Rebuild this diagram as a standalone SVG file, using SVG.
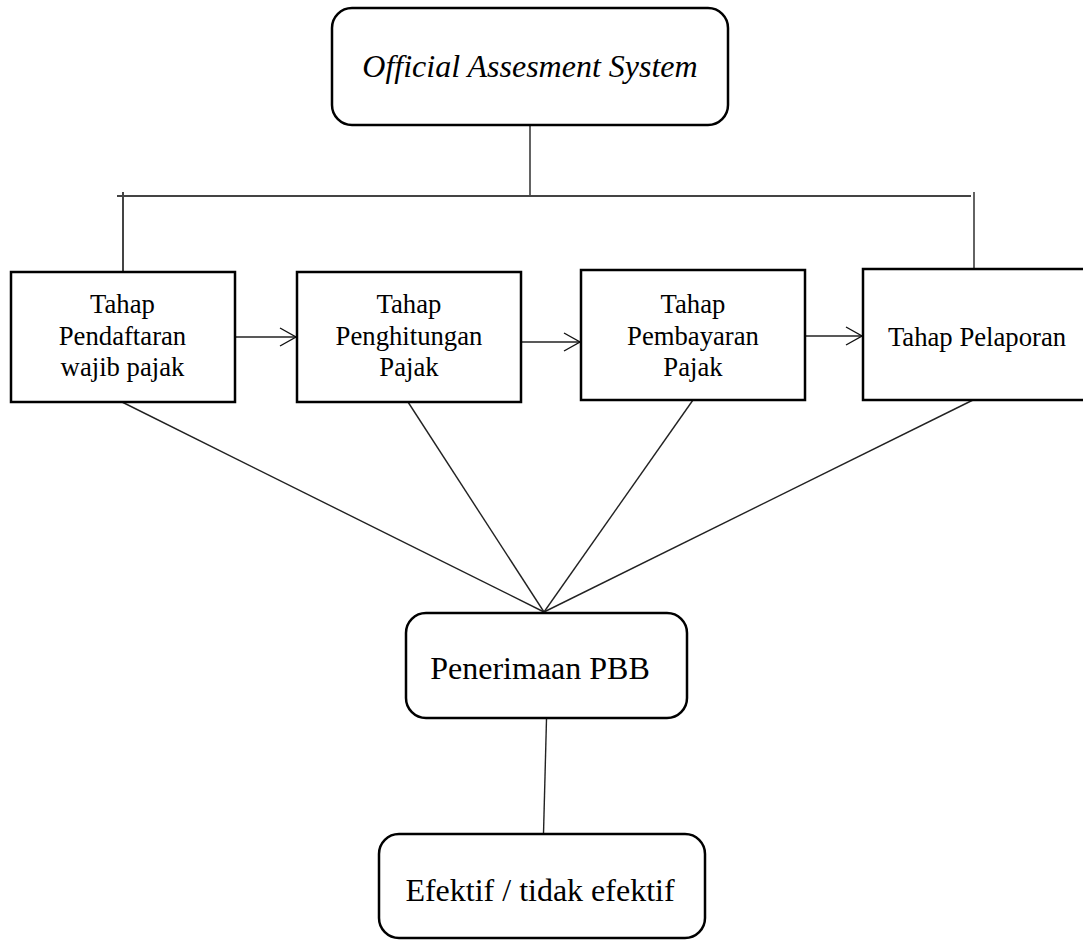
<svg xmlns="http://www.w3.org/2000/svg" width="1083" height="940" viewBox="0 0 1083 940">
<style>
.box{fill:#fff;stroke:#000;stroke-width:2.5}
.ln{fill:none;stroke:#222;stroke-width:1.4}
.ln2{fill:none;stroke:#444;stroke-width:2}
.t{font-family:"Liberation Serif","Times New Roman",serif;fill:#000;text-anchor:middle}
.big{font-size:32px}
.sm{font-size:26.7px}
</style>
<defs>
<marker id="open" viewBox="0 0 20 20" refX="18" refY="10" markerWidth="20" markerHeight="20" markerUnits="userSpaceOnUse" orient="auto">
<path d="M2,1 L18,10 L2,19" fill="none" stroke="#111" stroke-width="1.4"/>
</marker>
</defs>
<rect width="1083" height="940" fill="#fff"/>
<g id="connectors">
<line class="ln" x1="530" y1="125" x2="530" y2="196"/>
<line class="ln2" x1="117" y1="196" x2="971" y2="196"/>
<line class="ln2" x1="123" y1="192" x2="123" y2="271"/>
<line class="ln" x1="974" y1="192" x2="974" y2="269"/>
<line class="ln" x1="236" y1="337" x2="296" y2="337" marker-end="url(#open)"/>
<line class="ln" x1="522" y1="342" x2="580" y2="342" marker-end="url(#open)"/>
<line class="ln" x1="806" y1="336" x2="862" y2="336" marker-end="url(#open)"/>
<line class="ln" x1="122" y1="402" x2="544" y2="612"/>
<line class="ln" x1="408" y1="402" x2="544" y2="612"/>
<line class="ln" x1="693" y1="400" x2="544" y2="612"/>
<line class="ln" x1="973" y1="400" x2="544" y2="612"/>
<line class="ln" x1="546.5" y1="719" x2="543.5" y2="834"/>
</g>
<g id="official">
<rect class="box" x="332" y="8" width="396" height="117" rx="20"/>
<text class="t big" x="530" y="77" font-style="italic">Official Assesment System</text>
</g>
<g id="pendaftaran">
<rect class="box" x="11" y="272" width="224" height="130"/>
<text class="t sm" x="122.5" y="313">Tahap</text>
<text class="t sm" x="122.5" y="345">Pendaftaran</text>
<text class="t sm" x="122.5" y="376">wajib pajak</text>
</g>
<g id="penghitungan">
<rect class="box" x="297" y="272" width="224" height="130"/>
<text class="t sm" x="409" y="313">Tahap</text>
<text class="t sm" x="409" y="345">Penghitungan</text>
<text class="t sm" x="409" y="376">Pajak</text>
</g>
<g id="pembayaran">
<rect class="box" x="581" y="270" width="224" height="130"/>
<text class="t sm" x="693" y="313">Tahap</text>
<text class="t sm" x="693" y="345">Pembayaran</text>
<text class="t sm" x="693" y="376">Pajak</text>
</g>
<g id="pelaporan">
<rect class="box" x="863" y="269" width="226" height="131"/>
<text class="t sm" x="977" y="346">Tahap Pelaporan</text>
</g>
<g id="penerimaan">
<rect class="box" x="406" y="613" width="281" height="105" rx="20"/>
<text class="t big" x="540" y="679">Penerimaan PBB</text>
</g>
<g id="efektif">
<rect class="box" x="379" y="834" width="326" height="104" rx="20"/>
<text class="t big" x="540" y="901">Efektif / tidak efektif</text>
</g>
</svg>
